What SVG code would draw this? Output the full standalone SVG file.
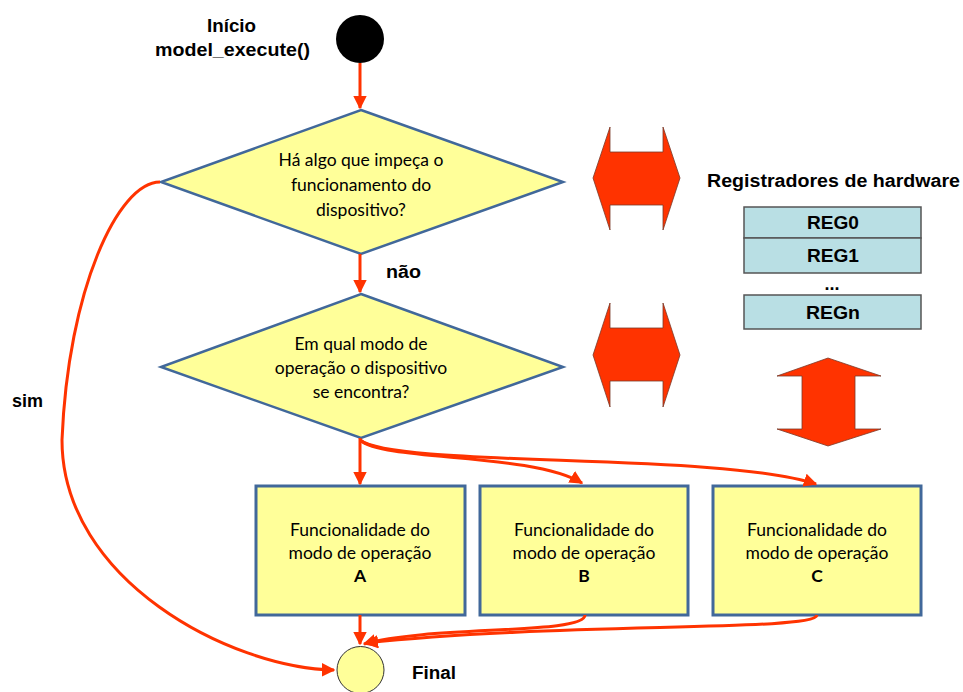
<svg xmlns="http://www.w3.org/2000/svg" width="963" height="692" viewBox="0 0 963 692">
  <style>
    .lbl { font-family: "Liberation Sans", Arial, sans-serif; font-weight: bold; font-size: 18px; fill: #000; }
    .body { font-family: Lato, "Noto Sans", sans-serif; font-size: 17.5px; fill: #000; text-anchor: middle; }
    .shape { fill: #FFFF99; stroke: #41689A; stroke-width: 2.5; }
    .box { fill: #FFFF99; stroke: #41689A; stroke-width: 3; }
    .reg { fill: #B9DFE4; stroke: #555; stroke-width: 1.5; }
    .big { fill: #FF3300; stroke: #7a3a2a; stroke-width: 0.8; }
    .flow { fill: none; stroke: #FF3300; stroke-width: 3; }
  </style>
  <defs>
    <marker id="tip" viewBox="0 0 10 10" refX="9" refY="5" markerWidth="4.5" markerHeight="4.5" orient="auto" markerUnits="strokeWidth">
      <path d="M0,0 L10,5 L0,10 z" fill="#FF3300"/>
    </marker>
  </defs>
  <rect width="963" height="692" fill="#fff"/>

  <!-- start node -->
  <g id="start">
    <circle cx="360" cy="39" r="24" fill="#000"/>
    <text class="lbl" x="207" y="32" textLength="49" lengthAdjust="spacingAndGlyphs">Início</text>
    <text class="lbl" x="155" y="56" textLength="155" lengthAdjust="spacingAndGlyphs">model_execute()</text>
  </g>

  <!-- decision: device blocked? -->
  <g id="check-device">
    <polygon class="shape" points="361,110 563,182 361,254 161,182"/>
    <text class="body" x="361" y="166">Há algo que impeça o</text>
    <text class="body" x="361" y="191">funcionamento do</text>
    <text class="body" x="361" y="216">dispositivo?</text>
  </g>

  <!-- decision: operating mode -->
  <g id="check-mode">
    <polygon class="shape" points="361,294 563,367 361,438 161,367"/>
    <text class="body" x="361" y="350">Em qual modo de</text>
    <text class="body" x="361" y="374">operação o dispositivo</text>
    <text class="body" x="361" y="398">se encontra?</text>
  </g>

  <g id="mode-a">
    <rect class="box" x="256" y="486" width="209" height="129"/>
    <text class="body" x="360" y="536">Funcionalidade do</text>
    <text class="body" x="360" y="559">modo de operação</text>
    <text class="body" x="360" y="582" font-weight="bold">A</text>
  </g>
  <g id="mode-b">
    <rect class="box" x="480" y="486" width="208" height="129"/>
    <text class="body" x="584" y="536">Funcionalidade do</text>
    <text class="body" x="584" y="559">modo de operação</text>
    <text class="body" x="584" y="582" font-weight="bold">B</text>
  </g>
  <g id="mode-c">
    <rect class="box" x="713" y="486" width="208" height="129"/>
    <text class="body" x="817" y="536">Funcionalidade do</text>
    <text class="body" x="817" y="559">modo de operação</text>
    <text class="body" x="817" y="582" font-weight="bold">C</text>
  </g>

  <!-- end node -->
  <g id="final">
    <circle cx="360.5" cy="670" r="23.5" fill="#FFFF99" stroke="#333" stroke-width="1"/>
    <text class="lbl" x="412" y="679" textLength="44" lengthAdjust="spacingAndGlyphs">Final</text>
  </g>

  <!-- hardware registers -->
  <g id="registers">
    <text class="lbl" x="707" y="187" textLength="253" lengthAdjust="spacingAndGlyphs">Registradores de hardware</text>
    <rect class="reg" x="744" y="207" width="177" height="31"/>
    <rect class="reg" x="744" y="238" width="177" height="35"/>
    <rect class="reg" x="744" y="295" width="177" height="34"/>
    <text class="lbl" x="807" y="229" textLength="52" lengthAdjust="spacingAndGlyphs">REG0</text>
    <text class="lbl" x="807" y="262" textLength="52" lengthAdjust="spacingAndGlyphs">REG1</text>
    <text class="lbl" x="832" y="290" text-anchor="middle">...</text>
    <text class="lbl" x="806" y="319" textLength="54" lengthAdjust="spacingAndGlyphs">REGn</text>
  </g>

  <!-- block arrows: data exchange with the registers -->
  <g id="io-arrows">
    <polygon class="big" points="593,178 610,127 610,152 663,152 663,127 680,178 663,230 663,205 610,205 610,230"/>
    <polygon class="big" points="593,355 610,303 610,328 663,328 663,303 680,355 663,407 663,381 610,381 610,407"/>
    <polygon class="big" points="828,358 881,376 855,376 855,429 881,429 828,446 777,429 802,429 802,376 777,376"/>
  </g>

  <!-- connectors -->
  <g id="connectors">
    <path class="flow" d="M360,63 L360,108" marker-end="url(#tip)"/>
    <path class="flow" d="M360,254 L360,292" marker-end="url(#tip)"/>
    <path class="flow" d="M160,182 C118,182 68,290 62,440 C62,580 230,668 334,670" marker-end="url(#tip)"/>
    <path class="flow" d="M360,438 L360,484" marker-end="url(#tip)"/>
    <path class="flow" d="M360,440 C385,462 530,452 582,483" marker-end="url(#tip)"/>
    <path class="flow" d="M360,440 C395,468 720,452 816,484" marker-end="url(#tip)"/>
    <path class="flow" d="M360,615 L360,644" marker-end="url(#tip)"/>
    <path class="flow" d="M585,615 C585,635 430,625 364,644" marker-end="url(#tip)"/>
    <path class="flow" d="M817,615 C815,632 560,622 366,643" marker-end="url(#tip)"/>
    <text class="lbl" x="386" y="278" textLength="35" lengthAdjust="spacingAndGlyphs">não</text>
    <text class="lbl" x="12" y="407" textLength="31" lengthAdjust="spacingAndGlyphs">sim</text>
  </g>
</svg>
